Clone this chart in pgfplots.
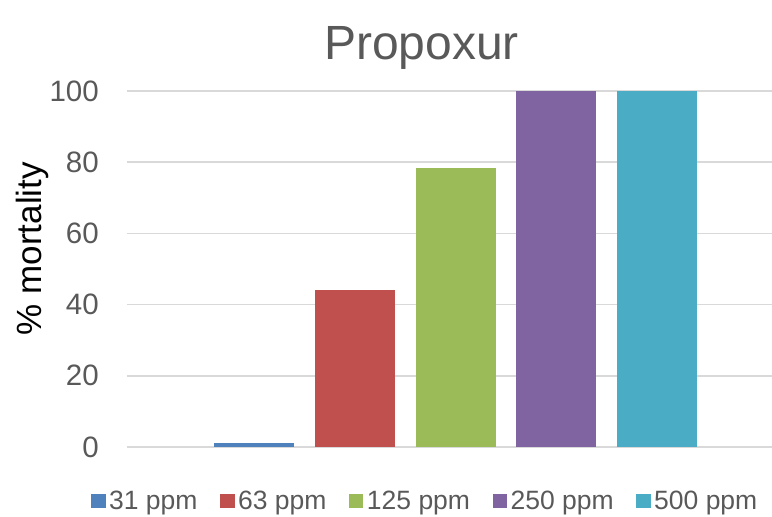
\documentclass[border=0pt]{standalone}
\usepackage{pgfplots}
\pgfplotsset{compat=1.18}
\usepackage{fontspec}
\setmainfont{Liberation Sans}
\definecolor{tx}{HTML}{595959}
\definecolor{grd}{HTML}{D9D9D9}
\definecolor{c1}{HTML}{4F81BD}
\definecolor{c2}{HTML}{C0504D}
\definecolor{c3}{HTML}{9BBB59}
\definecolor{c4}{HTML}{8064A2}
\definecolor{c5}{HTML}{4BACC6}
\begin{document}
\begin{tikzpicture}
\useasboundingbox (0,0) rectangle (772pt,517pt);
\begin{axis}[
  at={(127pt,70pt)}, anchor=south west,
  scale only axis, width=645pt, height=356pt,
  xmin=-0.2605, xmax=6.141, ymin=0, ymax=100,
  axis line style={draw=none},
  ymajorgrids, grid style={grd, line width=1.5pt},
  ytick={0,20,...,100}, xtick=\empty,
  major tick length=0pt,
  /pgf/number format/assume math mode=true,
  yticklabel style={font=\fontsize{29.5}{34}\selectfont, text=tx, anchor=east, inner sep=0pt, xshift=-28pt},
  ylabel={\% mortality},
  ylabel style={font=\fontsize{35}{40}\selectfont, text=black, at={(axis description cs:-0.147,0.557)}, anchor=center},
  title={Propoxur},
  title style={font=\fontsize{48}{56}\selectfont, text=tx, at={(axis description cs:0.4565,1)}, anchor=base, yshift=25pt, inner sep=0pt},
  ybar, bar width=80pt, bar shift=0pt,
  legend columns=5,
  legend style={draw=none, fill=none, at={(axis description cs:0.4636,-0.152)}, anchor=center,
    font=\fontsize{26.5}{30}\selectfont, text=tx,
    /tikz/every even column/.append style={column sep=19pt},
    nodes={inner ysep=2pt, inner xsep=3.5pt}},
  legend image code/.code={\fill[#1] (0pt,-7.2pt) rectangle (14.5pt,7.2pt);},
]
\addplot[fill=c1, draw=none] coordinates {(1,1)};
\addplot[fill=c2, draw=none] coordinates {(2,44)};
\addplot[fill=c3, draw=none] coordinates {(3,78.4)};
\addplot[fill=c4, draw=none] coordinates {(4,100)};
\addplot[fill=c5, draw=none] coordinates {(5,100)};
\legend{31 ppm, 63 ppm, 125 ppm, 250 ppm, 500 ppm}
\end{axis}
\end{tikzpicture}
\end{document}
